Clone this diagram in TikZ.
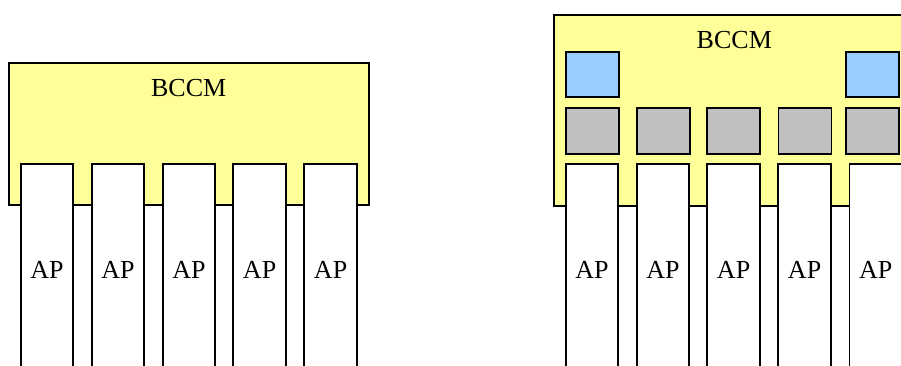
\documentclass[tikz,border=0pt]{standalone}
\usepackage{fontspec}
\setmainfont{Liberation Serif}
\definecolor{bccmyellow}{HTML}{FFFF99}
\definecolor{portblue}{HTML}{99CCFF}
\definecolor{portgray}{HTML}{C0C0C0}
\begin{document}
\begin{tikzpicture}[x=1pt,y=-1pt,
  box/.style={draw=black,line width=1.8pt,rectangle,inner sep=0pt,outer sep=0pt,anchor=north west},
  bccm/.style={box,fill=bccmyellow},
  apbox/.style={box,fill=white,minimum width=52.6pt,minimum height=212pt,font=\fontsize{26}{30}\selectfont},
  bluesq/.style={box,fill=portblue,minimum width=53.3pt,minimum height=45pt},
  graysq/.style={box,fill=portgray,minimum width=53pt,minimum height=45.4pt},
  lbl/.style={font=\fontsize{26}{30}\selectfont,inner sep=0pt}]
\useasboundingbox (0,0) rectangle (901,365);
\clip (0,0) rectangle (901,365);
% left
\node[bccm,minimum width=359.7pt,minimum height=142pt] (L) at (9,63.3) {};
\node[lbl] (Lt) at (188.7,88.5) {BCCM};
\foreach \x [count=\n] in {20.7,91.7,162.7,233.3,304.3}
  \node[apbox] (la\n) at (\x,164.3) {AP};
% right
\node[bccm,minimum width=362pt,minimum height=190.7pt] (R) at (554,15) {};
\node[lbl] (Rt) at (734.3,40) {BCCM};
\node[bluesq] (rb1) at (565.7,52.3) {};
\node[bluesq] (rb2) at (846,52.3) {};
\foreach \x [count=\n] in {565.7,636.7,707.3,778.5,846.3}
  \node[graysq] (rg\n) at (\x,108.3) {};
\foreach \x [count=\n] in {565.7,636.7,707.3,778.3,849.5}
  \node[apbox] (ra\n) at (\x,164.3) {AP};
\end{tikzpicture}
\end{document}
